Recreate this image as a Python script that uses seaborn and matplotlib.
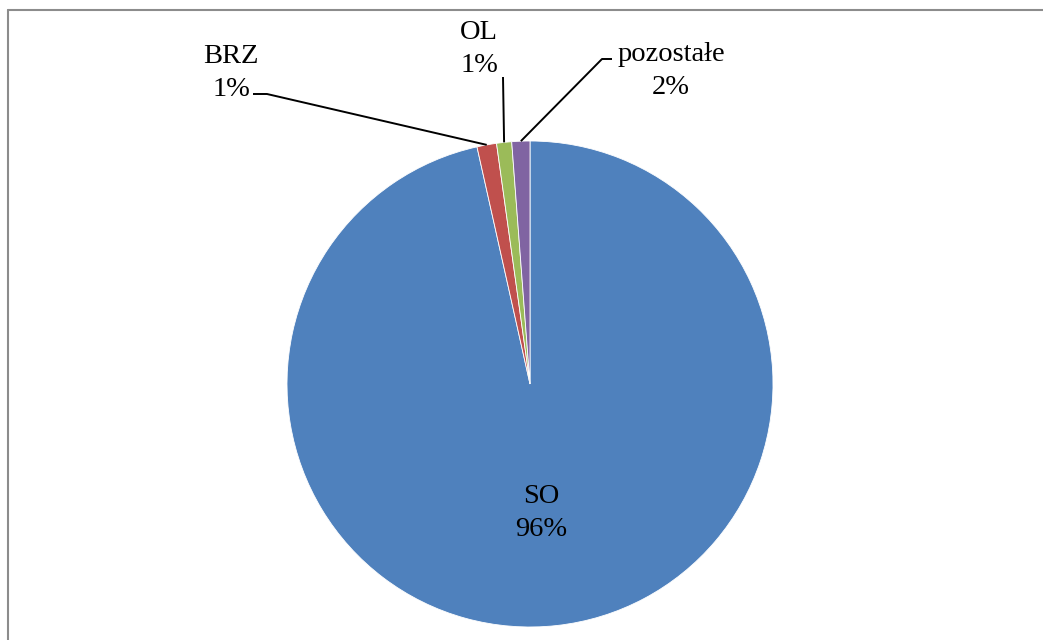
import numpy as np
import matplotlib
matplotlib.use('Agg')
import matplotlib.pyplot as plt
from matplotlib.lines import Line2D
import seaborn as sns

# shares (labels are the rounded values Excel printed)
categories = ['SO', 'BRZ', 'OL', 'pozostałe']
shares = [96.5, 1.3, 1.0, 1.2]
pct_labels = ['96%', '1%', '1%', '2%']
colors = ['#4F81BD', '#C0504D', '#9BBB59', '#8064A2']

sns.set_theme(style='white')
plt.rcParams['font.family'] = ['Liberation Serif', 'DejaVu Serif']

fig = plt.figure(figsize=(10.43, 6.4), dpi=100)
ax = fig.add_axes([0, 0, 1, 1])

cx, cy, r = 530, 384, 243
wedges, _ = ax.pie(shares, colors=sns.color_palette(colors), center=(cx, cy), radius=r,
                   startangle=270, counterclock=True, frame=True,
                   wedgeprops=dict(edgecolor='white', linewidth=0.6))
ax.set_xlim(0, 1043)
ax.set_ylim(640, 0)
ax.set_axis_off()

def edge_point(w):
    t = np.deg2rad((w.theta1 + w.theta2) / 2)
    return cx + r * np.cos(t), cy + r * np.sin(t)

fs = 20.5
# label text spots and leader line paths
label_pos = {'SO': (541, 513), 'BRZ': (231, 73), 'OL': (479, 49), 'pozostałe': (671, 71)}
leaders = {'BRZ': [(253, 94), (267, 94)], 'OL': [(503, 77)], 'pozostałe': [(612, 59), (602, 59)]}

for w, name, pct in zip(wedges, categories, pct_labels):
    x, y = label_pos[name]
    ax.text(x, y, name + '\n' + pct, ha='center', va='center', fontsize=fs,
            linespacing=1.4, color='black')
    if name in leaders:
        pts = leaders[name] + [edge_point(w)]
        xs, ys = zip(*pts)
        ax.plot(xs, ys, color='black', lw=1.4, solid_capstyle='butt')

# chart area border (only left and top edges are inside the picture)
fig.add_artist(Line2D([8 / 1043, 8 / 1043], [0, 1 - 10 / 640], color='#8c8c8c', lw=1.5))
fig.add_artist(Line2D([8 / 1043, 1], [1 - 10 / 640, 1 - 10 / 640], color='#8c8c8c', lw=1.5))

fig.savefig('out.png', dpi=100)
